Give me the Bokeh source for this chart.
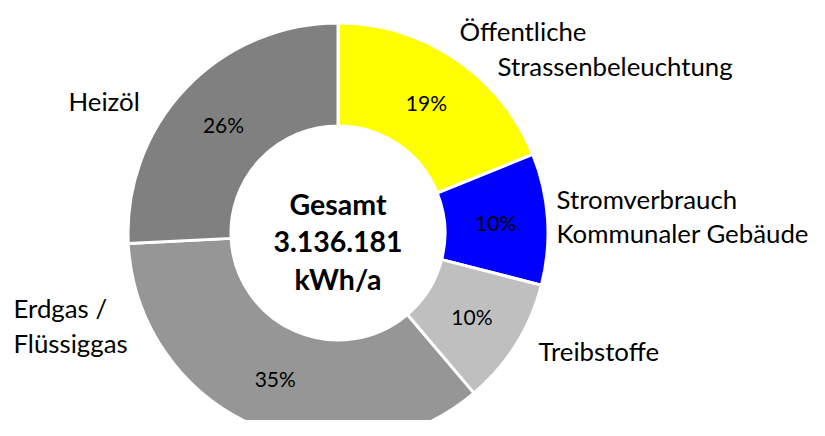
import math
from bokeh.plotting import figure
from bokeh.models import Range1d, ColumnDataSource
from bokeh.core.properties import value
from bokeh.embed import file_html
from bokeh.resources import INLINE

# ---- data ----
categories = ["Öffentliche Strassenbeleuchtung", "Stromverbrauch Kommunaler Gebäude",
              "Treibstoffe", "Erdgas / Flüssiggas", "Heizöl"]
shares = [18.9, 10.1, 9.8, 35.4, 25.8]
colors = ["#FFFF00", "#0000FF", "#BFBFBF", "#969696", "#808080"]
label_lines = [["Öffentliche", "Strassenbeleuchtung"],
               ["Stromverbrauch", "Kommunaler Gebäude"],
               ["Treibstoffe"],
               ["Erdgas /", "Flüssiggas"],
               ["Heizöl"]]
center_lines = ["Gesamt", "3.136.181", "kWh/a"]

# ---- layout (pixel coordinates of the reference, y measured downward) ----
W, H = 809, 420
CX, CY = 337.5, 232.5
R_OUT, R_IN, R_LBL = 210, 107, 158
label_pos = [[(459, 30), (497, 65)],
             [(556, 198), (556, 232)],
             [(538, 350)],
             [(13, 307), (13, 342)],
             [(68, 100)]]
center_y = [203, 241, 278]

p = figure(width=W, height=H, output_backend="svg", toolbar_location=None,
           x_range=Range1d(0, W), y_range=Range1d(-H, 0))
p.axis.visible = False
p.grid.visible = False
p.outline_line_color = None
p.background_fill_color = "white"
p.border_fill_color = "white"
p.min_border = 0

total = sum(shares)
starts, ends, mids = [], [], []
cum = 0.0
for s in shares:
    a0 = math.pi / 2 - 2 * math.pi * cum / total
    cum += s
    a1 = math.pi / 2 - 2 * math.pi * cum / total
    starts.append(a0)
    ends.append(a1)
    mids.append((a0 + a1) / 2)

src = ColumnDataSource(dict(start=starts, end=ends, color=colors, cat=categories))
p.annular_wedge(x=CX, y=-CY, inner_radius=R_IN, outer_radius=R_OUT,
                start_angle="start", end_angle="end", direction="clock",
                fill_color="color", line_color="white", line_width=3, source=src)

# percentage labels
pct = ["%d%%" % round(100 * s / total) for s in shares]
px = [CX + R_LBL * math.cos(m) for m in mids]
py = [-CY + R_LBL * math.sin(m) for m in mids]
p.text(x=px, y=py, text=pct, text_font=value("Lato"), text_font_size="21px",
       text_align="center", text_baseline="middle", text_color="black")

# category labels
lx, ly, lt = [], [], []
for lines, poss in zip(label_lines, label_pos):
    for t, (x, y) in zip(lines, poss):
        lx.append(x)
        ly.append(-y)
        lt.append(t)
p.text(x=lx, y=ly, text=lt, text_font=value("Lato"), text_font_size="25.8px",
       text_align="left", text_baseline="middle", text_color="black")

# centre text
p.text(x=[CX] * 3, y=[-y for y in center_y], text=center_lines, text_font=value("Lato"),
       text_font_size="28.5px", text_font_style="bold",
       text_align="center", text_baseline="middle", text_color="black")

open("out.html", "w").write(file_html(p, INLINE))
